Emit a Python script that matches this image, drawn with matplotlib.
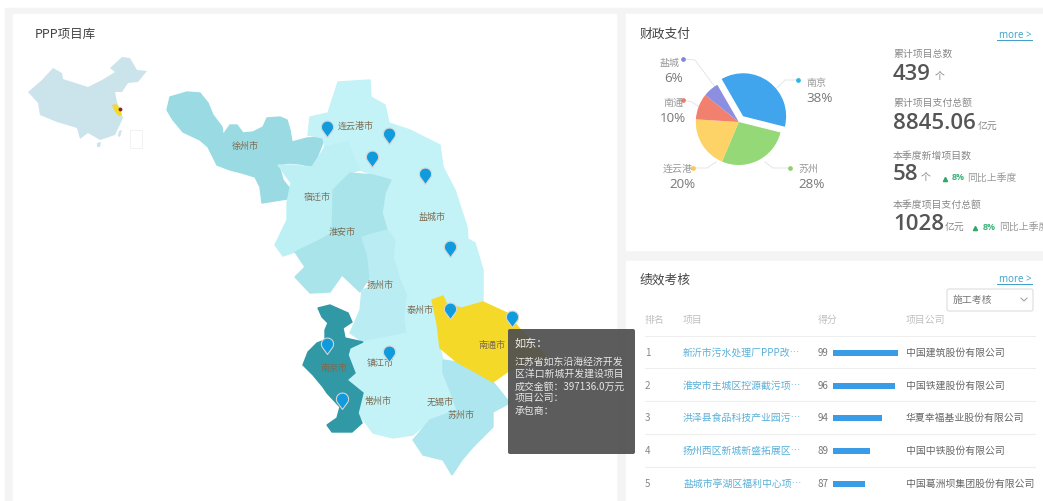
import numpy as np
import matplotlib
matplotlib.use('Agg')
import matplotlib.pyplot as plt
from matplotlib.patches import Polygon, Rectangle, FancyBboxPatch
from matplotlib.path import Path

plt.rcParams['font.family'] = ['Noto Sans CJK SC', 'DejaVu Sans']

W, H = 1043, 501

# pie data
pie_values = [38, 28, 20, 10, 6]
pie_colors = ['#41a5ee', '#94d877', '#fdd267', '#f2806e', '#8c8ee0']
pie_dots = ['#2bb5e8', '#8fd070', '#fbc75d', '#ee7b6a', '#8288d8']
pie_labels = ['南京', '苏州', '连云港', '南通', '盐城']
pie_pct = ['38%', '28%', '20%', '10%', '6%']
pie_name_xy = [(816, 83), (808, 169), (678, 169), (673, 103), (670, 63)]
pie_pct_xy = [(820, 98), (812, 185), (682, 185), (673, 118), (674, 78)]
pie_lines = [
    [(798, 80), (785, 80), (777, 88)],
    [(790, 168), (773, 168), (765, 162)],
    [(693, 168), (707, 168), (716, 162)],
    [(683, 100), (692, 102), (701, 108)],
    [(683, 59), (695, 60), (715, 87)],
]

# table data
ranks = [1, 2, 3, 4, 5]
projects = ['新沂市污水处理厂PPP改…', '淮安市主城区控源截污项…', '洪泽县食品科技产业园污…',
            '扬州西区新城新盛拓展区…', '盐城市亭湖区福利中心项…']
scores = [99, 96, 94, 89, 87]
score_bars = [65, 62, 49, 37, 32]
companies = ['中国建筑股份有限公司', '中国铁建股份有限公司', '华夏幸福基业股份有限公司',
             '中国中铁股份有限公司', '中国葛洲坝集团股份有限公司']
row_y = [353, 386, 418, 451, 484]
rule_y = [336, 368, 401, 434, 467]

# map outlines
china = [(28, 92), (42, 80), (53, 68), (62, 73), (63, 79), (88, 87), (102, 80), (115, 72), (110, 68),
         (122, 57), (130, 58), (137, 70), (147, 71), (138, 82), (128, 83), (122, 92), (115, 92),
         (117, 102), (123, 118), (115, 135), (100, 140), (88, 133), (80, 139), (77, 128), (57, 122),
         (40, 115), (38, 103)]
hainan = [(97, 143), (101, 142), (100, 147), (97, 147)]
taiwan = [(119, 131), (122, 130), (120, 137), (118, 136)]
jiangsu_small = [(112, 105), (116, 104), (120, 108), (122, 115), (119, 116), (115, 112)]

xuzhou = [(167, 110), (170, 97), (187, 92), (200, 93), (208, 103), (213, 115), (222, 127), (223, 135),
          (230, 125), (237, 125), (243, 133), (253, 132), (263, 127), (267, 118), (280, 117), (287, 120),
          (290, 130), (292, 142), (307, 138), (325, 137), (320, 150), (313, 167), (300, 164), (288, 163),
          (279, 165), (283, 180), (291, 190), (287, 199), (262, 203), (260, 187), (255, 177), (242, 173),
          (230, 170), (217, 165), (208, 147), (200, 140), (183, 132), (173, 120)]
lianyungang = [(338, 82), (370, 80), (371, 97), (385, 105), (389, 123), (392, 150), (387, 160), (373, 175),
               (360, 170), (353, 157), (348, 142), (325, 147), (323, 138), (308, 135), (310, 117), (328, 113)]
yancheng = [(389, 123), (410, 130), (440, 145), (443, 167), (455, 190), (467, 227), (468, 239), (475, 243),
            (483, 270), (483, 302), (460, 308), (447, 305), (443, 296), (432, 300), (407, 297), (400, 280),
            (393, 257), (395, 240), (387, 230), (382, 213), (385, 193), (392, 180), (373, 175), (387, 160),
            (392, 150)]
suqian = [(278, 165), (290, 165), (312, 167), (325, 147), (348, 142), (353, 157), (360, 170), (350, 173),
          (333, 190), (333, 203), (332, 233), (320, 240), (295, 252), (283, 256), (275, 245), (287, 220),
          (287, 203), (291, 183)]
huaian = [(350, 173), (373, 175), (391, 180), (385, 193), (382, 213), (387, 230), (362, 237), (368, 257),
          (370, 277), (360, 292), (342, 275), (330, 292), (310, 293), (295, 277), (305, 267), (295, 252),
          (320, 240), (332, 233), (333, 203), (333, 190)]
yangzhou = [(362, 237), (387, 230), (395, 240), (393, 257), (400, 280), (407, 297), (405, 320), (407, 333),
            (363, 342), (350, 333), (360, 310), (362, 290), (370, 287), (370, 277), (368, 257)]
south = [(363, 342), (350, 348), (348, 355), (355, 373), (347, 380), (363, 393), (358, 413), (373, 433),
         (393, 438), (413, 435), (430, 420), (457, 410), (450, 390), (443, 373), (443, 360), (440, 348),
         (437, 323), (432, 300), (407, 297), (405, 320), (407, 333)]
nanjing = [(318, 308), (330, 305), (348, 313), (352, 322), (343, 328), (345, 338), (363, 342), (350, 348),
           (348, 355), (355, 373), (347, 380), (363, 393), (358, 413), (362, 423), (352, 432), (332, 432),
           (327, 425), (337, 418), (340, 407), (327, 393), (323, 387), (313, 375), (303, 365), (308, 352),
           (317, 343), (325, 340), (325, 330), (328, 323), (322, 317)]
nantong = [(432, 300), (443, 296), (447, 305), (462, 308), (483, 302), (507, 313), (518, 327), (547, 358),
           (510, 370), (493, 382), (477, 373), (457, 362), (440, 348), (437, 323)]
suzhou = [(443, 360), (457, 362), (477, 373), (493, 382), (510, 403), (493, 412), (493, 427), (473, 447),
          (462, 460), (452, 475), (443, 460), (423, 455), (413, 440), (430, 420), (457, 410), (450, 390),
          (443, 373)]

regions = [xuzhou, lianyungang, yancheng, suqian, huaian, yangzhou, south, suzhou, nantong, nanjing]
region_colors = ['#9adbe3', '#c3f2f7', '#c3f2f7', '#bdf0f5', '#a9e4ea', '#b9edf3', '#c3f2f7', '#ade6ee',
                 '#f5d928', '#3198a6']

city_names = ['徐州市', '宿迁市', '淮安市', '连云港市', '盐城市', '扬州市', '泰州市', '南通市',
              '镇江市', '南京市', '常州市', '无锡市', '苏州市']
city_x = [245, 317, 342, 356, 432, 380, 420, 492, 380, 334, 378, 440, 461]
city_y = [146, 197, 232, 126, 217, 285, 310, 345, 363, 368, 401, 402, 415]

pin_x = [327, 389, 372, 425, 450, 450, 512, 327, 389, 342]
pin_y = [137, 144, 167, 184, 257, 319, 327, 354, 362, 409]

tip_lines = ['江苏省如东沿海经济开发', '区洋口新城开发建设项目', '成交金额：397136.0万元', '项目公司：', '承包商：']
tip_y = [362, 374, 387, 398, 411]


def pin_path():
    t = np.linspace(-40, 220, 40) * np.pi / 180
    xs = np.cos(t)
    ys = np.sin(t) + 1.7
    verts = [(0, 0)] + list(zip(xs, ys)) + [(0, 0)]
    codes = [Path.MOVETO] + [Path.LINETO] * (len(verts) - 2) + [Path.CLOSEPOLY]
    return Path(verts, codes)


def txt(x, y, s, size=7.1, color='#777777', ha='left', **kw):
    ax.text(x, y, s, fontsize=size, color=color, ha=ha, va='center', **kw)


fig = plt.figure(figsize=(W / 100, H / 100), dpi=100)
ax = fig.add_axes([0, 0, 1, 1])
ax.set_xlim(0, W)
ax.set_ylim(H, 0)
ax.axis('off')

# page and panels
ax.add_patch(Rectangle((0, 0), W, H, color='white', zorder=0))
ax.add_patch(Rectangle((5, 8), W, H, color='#f4f4f4', zorder=0))
ax.add_patch(Rectangle((13, 14), 603, H, color='white', zorder=0))
ax.add_patch(Rectangle((626, 14), 417, 236, color='white', zorder=0))
ax.add_patch(Rectangle((626, 261), 417, 240, color='white', zorder=0))

# map
txt(35, 34, 'PPP项目库', size=9, color='#444444')
ax.add_patch(Polygon(china, fc='#cbe3eb', ec='none'))
ax.add_patch(Polygon(hainan, fc='#cbe3eb', ec='none'))
ax.add_patch(Polygon(taiwan, fc='#cbe3eb', ec='none'))
ax.add_patch(Polygon(jiangsu_small, fc='#f5d928', ec='none'))
ax.add_patch(Rectangle((130, 130), 12, 18, fc='white', ec='#f0f0f0', lw=0.6))
ax.plot([120], [109], 'o', ms=1.8, color='#8a2a20')
for poly, col in zip(regions, region_colors):
    ax.add_patch(Polygon(poly, fc=col, ec=col, lw=1.0, zorder=1))
for name, x, y in zip(city_names, city_x, city_y):
    ax.text(x, y, name, fontsize=6.5, color='#7d6a50', ha='center', va='center', zorder=2)
ax.scatter(pin_x, pin_y, s=560, marker=pin_path(), fc='#0f9bdc', ec='#d5d5d5', lw=0.8, zorder=3)

# tooltip
ax.add_patch(FancyBboxPatch((508, 329), 127, 125, boxstyle='round,pad=0,rounding_size=2',
                            fc='#4f4f4f', ec='none', alpha=0.93, zorder=4))
ax.text(515, 343, '如东：', fontsize=8, color='#eeeeee', va='center', zorder=5)
for s, y in zip(tip_lines, tip_y):
    ax.text(515, y, s, fontsize=7.1, color='#e6e6e6', va='center', zorder=5)

# finance panel
txt(640, 34, '财政支付', size=9.2, color='#444444')
pax = fig.add_axes([(740 - 60) / W, 1 - (122 + 60) / H, 120 / W, 120 / H])
pax.pie(pie_values, colors=pie_colors, startangle=120, counterclock=False, radius=43 / 60,
        explode=[0.12, 0, 0, 0, 0], center=(-0.02, 0), wedgeprops={'lw': 0})
pax.set_xlim(-1, 1)
pax.set_ylim(-1, 1)
pax.set_position([(740 - 60) / W, 1 - (122 + 60) / H, 120 / W, 120 / H])
for line, dot, nm, pc, nxy, pxy in zip(pie_lines, pie_dots, pie_labels, pie_pct, pie_name_xy, pie_pct_xy):
    xs, ys = zip(*line)
    ax.plot(xs, ys, color='#e2e2e2', lw=0.6, zorder=1)
    ax.plot(xs[0], ys[0], 'o', ms=2.4, color=dot, zorder=2)
    txt(nxy[0], nxy[1], nm, size=7.2, color='#999999', ha='center')
    txt(pxy[0], pxy[1], pc, size=9.6, color='#777777', ha='center', family=['Open Sans', 'DejaVu Sans'])

num_font = ['Open Sans', 'Noto Sans CJK SC']
txt(893, 54, '累计项目总数', color='#888888')
txt(893, 74, '439', size=16, color='#555555', family=num_font, fontweight='semibold')
txt(935, 76, '个', color='#888888')
txt(893, 103, '累计项目支付总额', color='#888888')
txt(893, 123, '8845.06', size=16, color='#555555', family=num_font, fontweight='semibold')
txt(978, 126, '亿元', color='#888888')
txt(893, 156, '本季度新增项目数', color='#888888')
txt(893, 175, '58', size=16, color='#555555', family=num_font, fontweight='semibold')
txt(921, 177, '个', color='#888888')
ax.plot([945], [179], '^', ms=3, color='#2fa866')
txt(952, 178, '8%', size=6.4, color='#3cb37a', fontweight='bold', family=num_font)
txt(967, 178, '同比上季度', color='#999999')
txt(893, 205, '本季度项目支付总额', color='#888888')
txt(893, 225, '1028', size=16, color='#555555', family=num_font, fontweight='semibold')
txt(945, 227, '亿元', color='#888888')
ax.plot([975], [228], '^', ms=3, color='#2fa866')
txt(983, 227, '8%', size=6.4, color='#3cb37a', fontweight='bold', family=num_font)
txt(999, 227, '同比上季度', color='#999999', clip_on=True)

for y in [35, 279]:
    txt(1032, y, 'more >', size=7, color='#3aa0c8', ha='right', family=num_font)
    ax.plot([997, 1032], [y + 5, y + 5], color='#3aa0c8', lw=0.7)

# score table
txt(640, 280, '绩效考核', size=9.2, color='#444444')
ax.add_patch(FancyBboxPatch((947, 289), 86, 22, boxstyle='round,pad=0,rounding_size=2',
                            fc='white', ec='#dddddd', lw=0.8))
txt(953, 300, '施工考核', color='#777777')
ax.plot([1021, 1024, 1027], [298, 301, 298], color='#999999', lw=0.7)
txt(645, 320, '排名', color='#c0c0c0')
txt(683, 320, '项目', color='#c0c0c0')
txt(818, 320, '得分', color='#c0c0c0')
txt(906, 320, '项目公司', color='#c0c0c0')
for y in rule_y:
    ax.plot([645, 1035], [y, y], color='#eeeeee', lw=0.8)
ax.barh(row_y, score_bars, height=5.5, left=833, color='#3a9be6')
for r, p, s, c, y in zip(ranks, projects, scores, companies, row_y):
    txt(645, y, str(r), color='#888888')
    txt(683, y, p, color='#5ab0d8')
    txt(818, y, str(s), color='#777777')
    txt(906, y, c, color='#666666')

ax.set_xlim(0, W)
ax.set_ylim(H, 0)
fig.savefig('out.png', dpi=100)
